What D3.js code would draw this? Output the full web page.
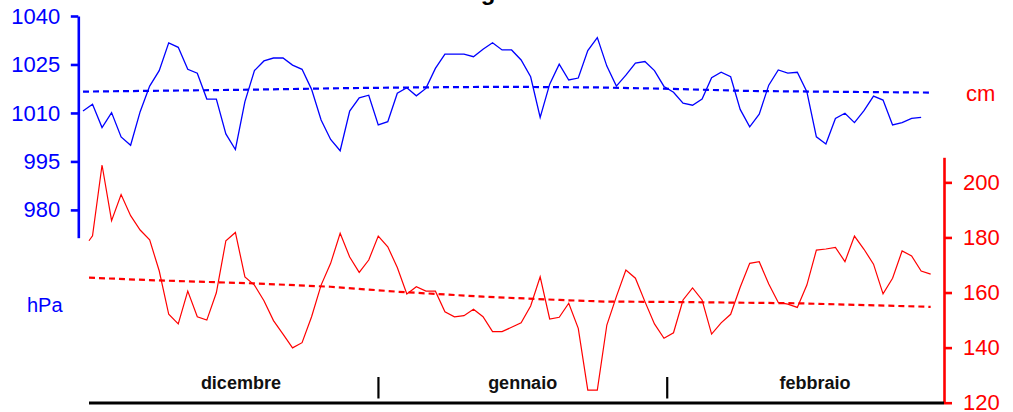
<!DOCTYPE html>
<html>
<head>
<meta charset="utf-8">
<script src="https://cdn.jsdelivr.net/npm/d3@7"></script>
<style>
  html, body { margin: 0; padding: 0; background: #fff; }
  svg { display: block; }
</style>
</head>
<body>
<script>
// ---------------- DATA ----------------
// Atmospheric pressure (hPa), one value per day, first value on day -1
const pressureFirstDay = -1;
const pressure = [
  1010.6, 1012.7, 1005.5, 1010.1, 1002.6, 1000.0, 1010.4, 1018.3, 1023.1, 1031.7,
  1030.3, 1023.5, 1022.3, 1014.3, 1014.3, 1003.5, 998.7, 1013.5, 1023.1, 1026.1,
  1027.0, 1027.0, 1024.8, 1023.5, 1017.3, 1007.8, 1001.8, 998.3, 1010.6, 1014.7,
  1015.5, 1006.3, 1007.3, 1016.1, 1017.8, 1015.3, 1017.6, 1023.8, 1028.2, 1028.2,
  1028.2, 1027.4, 1029.7, 1031.7, 1029.5, 1029.5, 1026.4, 1021.2, 1008.6, 1018.9,
  1025.1, 1020.2, 1020.8, 1029.3, 1033.3, 1024.5, 1018.3, 1021.7, 1025.4, 1025.9,
  1023.1, 1018.2, 1016.4, 1013.0, 1012.4, 1014.3, 1020.9, 1022.6, 1021.2, 1011.1,
  1005.7, 1009.6, 1018.6, 1023.3, 1022.3, 1022.6, 1016.6, 1002.6, 1000.4, 1008.3,
  1009.9, 1007.0, 1010.7, 1015.2, 1014.0, 1006.3, 1007.0, 1008.3, 1008.6
];
// Sea level (cm): leading partial value, then one value per day from day 0
const tideLeadDay = -0.37;
const tideLeadValue = 178.8;
const tideFirstDay = 0;
const tide = [
  180.6, 206.3, 186.1, 195.6, 187.9, 182.7, 179.1, 167.9, 152.1, 148.6,
  160.5, 151.2, 150.0, 159.9, 178.8, 181.8, 165.7, 162.7, 157.0, 149.8,
  144.9, 139.9, 141.8, 151.2, 162.7, 170.6, 181.5, 172.9, 167.3, 171.8,
  180.5, 176.6, 169.1, 159.5, 162.1, 160.5, 160.5, 153.0, 151.2, 151.6,
  153.9, 151.2, 145.8, 145.8, 147.4, 149.0, 155.1, 165.7, 150.4, 151.0,
  156.1, 147.0, 124.6, 124.6, 148.2, 158.5, 168.2, 165.2, 156.7, 148.6,
  143.4, 145.4, 157.3, 161.7, 157.3, 144.9, 149.0, 152.1, 161.9, 170.6,
  171.2, 163.1, 156.4, 155.8, 154.6, 162.7, 175.4, 175.8, 176.4, 171.2,
  180.5, 175.7, 170.3, 159.5, 165.2, 175.1, 173.3, 167.8, 166.7
];
// Mean (reference) curves
const pressureTrendDays   = [-1, 16.5, 27, 34, 43, 53, 60, 69, 80, 88.1];
const pressureTrendValues = [1016.6, 1017.2, 1017.7, 1017.9, 1018.1, 1017.9, 1017.5, 1016.8, 1016.5, 1016.3];
const tideTrendDays   = [-0.37, 6, 17, 25, 32, 41, 49, 54, 60, 74, 88];
const tideTrendValues = [165.4, 164.5, 163.3, 162.1, 160.3, 158.5, 157.3, 156.7, 156.6, 156.1, 154.8];

// Axis ticks and labels
const pressureTicks = [980, 995, 1010, 1025, 1040];
const tideTicks = [120, 140, 160, 180, 200];
const months = ["dicembre", "gennaio", "febbraio"];
const monthCenterDays = [15.58, 45.16, 75.85];
const monthBoundaryDays = [30.02, 60.34];
const titleText = "Andamento giornaliero";
const pressureUnit = "hPa";
const tideUnit = "cm";

// ---------------- CHART ----------------
const W = 1013, H = 412;
const BLUE = "#0000ff", RED = "#ff0000";
const FONT = "'Liberation Sans', Arial, Helvetica, sans-serif";

const svg = d3.select("body").append("svg").attr("width", W).attr("height", H);

const x = d3.scaleLinear().domain([-0.37, 89.4]).range([89, 944]);
const yP = d3.scaleLinear().domain([971.4, 1040]).range([237.7, 16]);
const yT = d3.scaleLinear().domain([120, 209.1]).range([402.7, 157.3]);

// title (lies above the visible area; only descenders show, as in the reference)
svg.append("text")
  .attr("x", 342).attr("y", -0.4)
  .attr("font-family", FONT).attr("font-weight", "bold").attr("font-size", 24)
  .attr("fill", "#000")
  .text(titleText);

// Trend / mean dashed lines
const pTrend = pressureTrendDays.map((d, i) => [d, pressureTrendValues[i]]);
const tTrend = tideTrendDays.map((d, i) => [d, tideTrendValues[i]]);
svg.append("path")
  .attr("d", d3.line().x(d => x(d[0])).y(d => yP(d[1]))(pTrend))
  .attr("fill", "none").attr("stroke", BLUE).attr("stroke-width", 2.2)
  .attr("stroke-dasharray", "6,4");
svg.append("path")
  .attr("d", d3.line().x(d => x(d[0])).y(d => yT(d[1]))(tTrend))
  .attr("fill", "none").attr("stroke", RED).attr("stroke-width", 2.2)
  .attr("stroke-dasharray", "6,4");

// Data lines
const pData = pressure.map((v, i) => [pressureFirstDay + i, v]);
const tData = [[tideLeadDay, tideLeadValue]].concat(tide.map((v, i) => [tideFirstDay + i, v]));
svg.append("path")
  .attr("d", d3.line().x(d => x(d[0])).y(d => yP(d[1]))(pData))
  .attr("fill", "none").attr("stroke", BLUE).attr("stroke-width", 1.3)
  .attr("stroke-linejoin", "miter");
svg.append("path")
  .attr("d", d3.line().x(d => x(d[0])).y(d => yT(d[1]))(tData))
  .attr("fill", "none").attr("stroke", RED).attr("stroke-width", 1.2)
  .attr("stroke-linejoin", "miter");

// Left axis (pressure)
const gL = svg.append("g").attr("transform", "translate(78.3,0)")
  .call(d3.axisLeft(yP).tickValues(pressureTicks).tickSize(7.5).tickPadding(10.5).tickSizeOuter(0).tickFormat(d3.format("d")));
gL.attr("font-family", FONT).attr("font-size", 22);
gL.select(".domain").attr("stroke", BLUE).attr("stroke-width", 2.6);
gL.selectAll(".tick line").attr("stroke", BLUE).attr("stroke-width", 2.6);
gL.selectAll(".tick text").attr("fill", BLUE);

// Right axis (sea level)
const gR = svg.append("g").attr("transform", "translate(944,0)")
  .call(d3.axisRight(yT).tickValues(tideTicks).tickSize(8).tickPadding(11).tickSizeOuter(0).tickFormat(d3.format("d")));
gR.attr("font-family", FONT).attr("font-size", 22);
gR.select(".domain").attr("stroke", RED).attr("stroke-width", 2.6);
gR.selectAll(".tick line").attr("stroke", RED).attr("stroke-width", 2.6);
gR.selectAll(".tick text").attr("fill", RED);

// unit labels
svg.append("text").attr("x", 27).attr("y", 312)
  .attr("font-family", FONT).attr("font-size", 20).attr("fill", BLUE).text(pressureUnit);
svg.append("text").attr("x", 966).attr("y", 100.5)
  .attr("font-family", FONT).attr("font-size", 22).attr("fill", RED).text(tideUnit);

// Bottom time axis
svg.append("line")
  .attr("x1", x.range()[0]).attr("x2", x.range()[1])
  .attr("y1", 403).attr("y2", 403)
  .attr("stroke", "#000").attr("stroke-width", 3);
svg.selectAll("line.sep").data(monthBoundaryDays).enter().append("line")
  .attr("class", "sep")
  .attr("x1", d => x(d)).attr("x2", d => x(d))
  .attr("y1", 377).attr("y2", 398.5)
  .attr("stroke", "#000").attr("stroke-width", 2.2);
svg.selectAll("text.month").data(months).enter().append("text")
  .attr("class", "month")
  .attr("x", (d, i) => x(monthCenterDays[i])).attr("y", 389)
  .attr("text-anchor", "middle")
  .attr("font-family", FONT).attr("font-weight", "bold").attr("font-size", 18)
  .attr("fill", "#111")
  .text(d => d);
</script>
</body>
</html>
